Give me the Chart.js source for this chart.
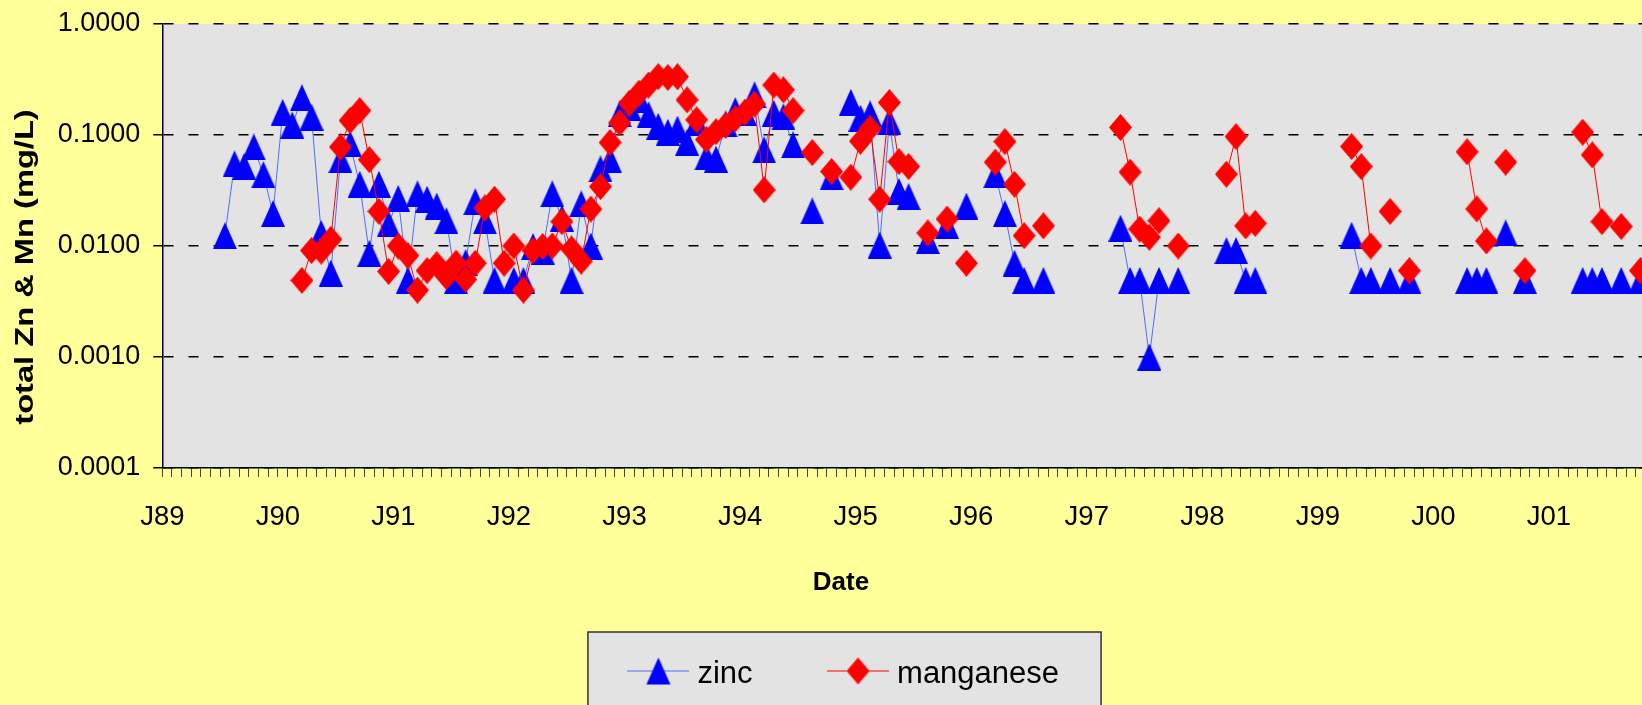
<!DOCTYPE html>
<html>
<head>
<meta charset="utf-8">
<script src="https://cdn.jsdelivr.net/npm/chart.js@4.4.1/dist/chart.umd.min.js"></script>
<style>
   html, body { margin: 0; padding: 0; background: #ffff99; }
</style>
</head>
<body>
<canvas id="myChart" width="1642" height="705"></canvas>
<script>
// monthly samples (mid-month), only the months that have a value
const months = [
   '1989-07', '1989-08', '1989-09', '1989-10', '1989-11', '1989-12',
   '1990-01', '1990-02', '1990-03', '1990-04', '1990-05', '1990-06', '1990-07', '1990-08', '1990-09', '1990-10', '1990-11', '1990-12',
   '1991-01', '1991-02', '1991-03', '1991-04', '1991-05', '1991-06', '1991-07', '1991-08', '1991-09', '1991-10', '1991-11', '1991-12',
   '1992-01', '1992-02', '1992-03', '1992-04', '1992-05', '1992-06', '1992-07', '1992-08', '1992-09', '1992-10', '1992-11', '1992-12',
   '1993-01', '1993-02', '1993-03', '1993-04', '1993-05', '1993-06', '1993-07', '1993-08', '1993-09', '1993-10', '1993-11', '1993-12',
   '1994-01', '1994-02', '1994-03', '1994-04', '1994-05', '1994-06', '1994-08', '1994-10', '1994-12',
   '1995-01', '1995-02', '1995-03', '1995-04', '1995-05', '1995-06', '1995-08', '1995-10', '1995-12',
   '1996-03', '1996-04', '1996-05', '1996-06', '1996-08',
   '1997-04', '1997-05', '1997-06', '1997-07', '1997-08', '1997-10',
   '1998-03', '1998-04', '1998-05', '1998-06',
   '1999-04', '1999-05', '1999-06', '1999-08', '1999-10',
   '2000-04', '2000-05', '2000-06', '2000-08', '2000-10',
   '2001-04', '2001-05', '2001-06', '2001-08', '2001-10'
];

const zinc = [
   0.0124, 0.055, 0.052, 0.078, 0.044, 0.0196,
   0.16, 0.123, 0.217, 0.145, 0.013, 0.0057, 0.06, 0.083, 0.036, 0.0086, 0.036, 0.0158,
   0.0268, 0.0049, 0.0295, 0.0264, 0.0229, 0.0169, 0.0049, 0.0071, 0.0251, 0.0169, 0.0049, null,
   0.0049, 0.0049, 0.0099, 0.009, 0.0295, 0.0178, 0.0049, 0.024, 0.01, 0.0495, 0.0597, 0.155,
   0.178, 0.211, 0.152, 0.12, 0.106, 0.113, 0.086, 0.13, 0.0635, 0.0606, 0.126, 0.166,
   0.16, 0.23, 0.0734, 0.157, 0.146, 0.0815, 0.0207, 0.042, 0.197,
   0.142, 0.155, 0.0102, 0.133, 0.031, 0.0279, 0.0112, 0.0153, 0.0229,
   0.044, 0.0196, 0.007, 0.0049, 0.0049,
   0.0145, 0.0049, 0.0049, 0.001, 0.0049, 0.0049,
   0.0091, 0.0091, 0.0049, 0.0049,
   0.0125, 0.0049, 0.0049, 0.0049, 0.0049,
   0.0049, 0.0049, 0.0049, 0.0131, 0.0049,
   0.0049, 0.0049, 0.0049, 0.0049, 0.0049
];

const manganese = [
   null, null, null, null, null, null,
   null, null, 0.0049, 0.0091, 0.009, 0.0115, 0.078, 0.135, 0.166, 0.06, 0.0205, 0.0059,
   0.01, 0.0082, 0.004, 0.006, 0.0068, 0.0053, 0.007, 0.005, 0.007, 0.022, 0.0264, 0.007,
   0.01, 0.004, 0.0091, 0.0099, 0.01, 0.0166, 0.0094, 0.0073, 0.0215, 0.0343, 0.0855, 0.129,
   0.193, 0.238, 0.282, 0.336, 0.33, 0.335, 0.207, 0.137, 0.091, 0.107, 0.122, 0.14,
   0.16, 0.19, 0.032, 0.282, 0.255, 0.166, 0.0695, 0.0469, 0.0417,
   0.088, 0.115, 0.0264, 0.196, 0.0576, 0.052, 0.0131, 0.0175, 0.007,
   0.0569, 0.0872, 0.036, 0.0124, 0.0152,
   0.117, 0.0463, 0.0142, 0.012, 0.0169, 0.01,
   0.0444, 0.0968, 0.0152, 0.016,
   0.0787, 0.052, 0.01, 0.0205, 0.006,
   0.0705, 0.0216, 0.0111, 0.0569, 0.006,
   0.106, 0.0662, 0.0166, 0.015, 0.006
];

const yearLabels = ['J89', 'J90', 'J91', 'J92', 'J93', 'J94', 'J95', 'J96', 'J97', 'J98', 'J99', 'J00', 'J01'];
const yTicks = [0.0001, 0.001, 0.01, 0.1, 1];

const X_MIN = 1989;
const X_MAX = 2001.805;
const FONT = '"Liberation Sans", Arial, sans-serif';


const monthIndex = (s) => { const [y, m] = s.split('-').map(Number); return (y - 1989) * 12 + (m - 1); }
const toX = (s) => X_MIN + (monthIndex(s) + 0.5) / 12;

// skipped months leave a gap in the line, like the original sheet
const buildPoints = (values) => {
   const pts = [];
   let prev = null;
   months.forEach((s, i) => {
      const idx = monthIndex(s);
      if (prev !== null && idx - prev > 1) pts.push({ x: toX(s) - 1 / 12, y: null });
      pts.push({ x: toX(s), y: values[i] });
      prev = idx;
   });
   return pts;
}

const makeMarker = (shape, color, w, h) => {
   const c = document.createElement('canvas');
   c.width = w; c.height = h;
   const g = c.getContext('2d');
   g.fillStyle = color;
   g.beginPath();
   if (shape == 'triangle') {
      g.moveTo(w / 2, 0); g.lineTo(w, h); g.lineTo(0, h);
   } else {
      g.moveTo(w / 2, 0); g.lineTo(w, h / 2); g.lineTo(w / 2, h); g.lineTo(0, h / 2);
   }
   g.closePath();
   g.fill();
   return c;
}

const makeLegendSample = (marker, lineColor) => {
   const c = document.createElement('canvas');
   c.width = 62; c.height = 44;
   const g = c.getContext('2d');
   const cy = 22 - 3.5;
   g.strokeStyle = lineColor;
   g.lineWidth = 1;
   g.beginPath(); g.moveTo(0, cy); g.lineTo(62, cy); g.stroke();
   g.drawImage(marker, 31 - marker.width / 2, cy - marker.height / 2);
   return c;
}

const COLORS = {
   zinc: '#4d6eff',
   zincMarker: '#0000ff',
   manganese: '#ff0000',
   plot: '#e3e3e3',
   page: '#ffff99',
}

const triangle = makeMarker('triangle', COLORS.zincMarker, 24, 27);
const diamond = makeMarker('diamond', COLORS.manganese, 23, 27);
const legendSamples = [makeLegendSample(triangle, COLORS.zinc), makeLegendSample(diamond, COLORS.manganese)];

const monthTicks = [];
for (let k = 0; X_MIN + k / 12 <= X_MAX; k++) monthTicks.push(X_MIN + k / 12);


const backdrop = {
   id: 'backdrop',
   beforeDraw(chart) {
      const { ctx, chartArea: a } = chart;
      ctx.save();
      ctx.fillStyle = COLORS.page;
      ctx.fillRect(0, 0, chart.width, chart.height);
      ctx.fillStyle = COLORS.plot;
      ctx.fillRect(a.left, a.top, a.right - a.left, a.bottom - a.top);

      // legend frame
      const lg = chart.legend;
      const p = lg.options.labels.padding;
      const x0 = (lg.left + p + lg.right - lg.lineWidths[0]) / 2;
      const x1 = x0 + lg.lineWidths[0] - p;
      const top = lg.top + p;
      ctx.fillStyle = COLORS.plot;
      ctx.strokeStyle = '#333';
      ctx.lineWidth = 1.5;
      ctx.fillRect(x0 - 47, top - 27, x1 - x0 + 89, 200);
      ctx.strokeRect(x0 - 47, top - 27, x1 - x0 + 89, 200);
      ctx.restore();
   },
   afterDraw(chart) {
      const { ctx } = chart;
      ctx.save();
      ctx.fillStyle = '#000';
      ctx.textAlign = 'center';
      ctx.textBaseline = 'alphabetic';

      ctx.font = 'bold 26px ' + FONT;
      ctx.fillText('Date', 841, 590);

      ctx.translate(33, 267);
      ctx.rotate(-Math.PI / 2);
      ctx.scale(1.28, 1);
      ctx.font = 'bold 25.5px ' + FONT;
      ctx.fillText('total Zn & Mn (mg/L)', 0, 0);
      ctx.restore();
   }
}


const config = {
   type: 'line',
   data: {
      datasets: [
         {
            label: 'zinc',
            data: buildPoints(zinc),
            borderColor: COLORS.zinc,
            backgroundColor: COLORS.zincMarker,
            borderWidth: 1,
            pointStyle: triangle,
            pointRadius: 13,
            tension: 0,
            fill: false,
            spanGaps: false,
            clip: false,
            order: 1,
         },
         {
            label: 'manganese',
            data: buildPoints(manganese),
            borderColor: COLORS.manganese,
            backgroundColor: COLORS.manganese,
            borderWidth: 1,
            pointStyle: diamond,
            pointRadius: 13,
            tension: 0,
            fill: false,
            spanGaps: false,
            clip: false,
            order: 0,
         },
      ]
   },
   options: {
      responsive: false,
      animation: false,
      events: [],
      // the big markers would otherwise pull the plot off the right edge
      layout: { autoPadding: false, padding: { left: 52, right: 0, top: 24, bottom: 5 } },
      plugins: {
         tooltip: { enabled: false },
         legend: {
            position: 'bottom',
            align: 'center',
            labels: {
               usePointStyle: true,
               pointStyleWidth: 47,
               padding: 82,
               color: '#000',
               font: { family: FONT, size: 31 },
               generateLabels: (chart) => chart.data.datasets.map((ds, i) => ({
                  text: ds.label,
                  pointStyle: legendSamples[i],
                  fillStyle: ds.borderColor,
                  strokeStyle: ds.borderColor,
                  lineWidth: 0,
                  hidden: false,
                  datasetIndex: i,
               })),
            },
         },
      },
      scales: {
         x: {
            type: 'linear',
            min: X_MIN,
            max: X_MAX,
            afterBuildTicks: (s) => { s.ticks = monthTicks.map(v => ({ value: v })); },
            afterFit: (s) => { s.height = 109; },
            grid: {
               drawOnChartArea: false,
               drawTicks: true,
               tickLength: 9,
               tickColor: '#444',
               tickWidth: 1,
            },
            border: { display: true, color: '#000', width: 1.5 },
            ticks: {
               autoSkip: false,
               maxRotation: 0,
               // no tick padding; a tall line box drops the labels instead
               padding: 0,
               color: '#000',
               font: { family: FONT, size: 27.5, lineHeight: 80 / 27.5 },
               callback: (v, i) => (i % 12 == 0 ? yearLabels[i / 12] : ''),
            },
         },
         y: {
            type: 'logarithmic',
            min: 0.0001,
            max: 1,
            afterBuildTicks: (s) => { s.ticks = yTicks.map(v => ({ value: v })); },
            afterFit: (s) => { s.width = 110.3; },
            grid: {
               color: '#000',
               lineWidth: 1.5,
               drawTicks: true,
               tickLength: 9,
               tickColor: '#000',
               tickWidth: 1.5,
            },
            border: { display: true, color: '#000', width: 1.5, dash: [10, 15] },
            ticks: {
               padding: 13,
               color: '#000',
               font: { family: FONT, size: 27, lineHeight: 0.8 },
               callback: (v) => Number(v).toFixed(4),
            },
         }
      }
   },
   plugins: [backdrop],
};

const ctx = document.getElementById('myChart').getContext('2d');
const myChart = new Chart(ctx, config);
</script>
</body>
</html>
